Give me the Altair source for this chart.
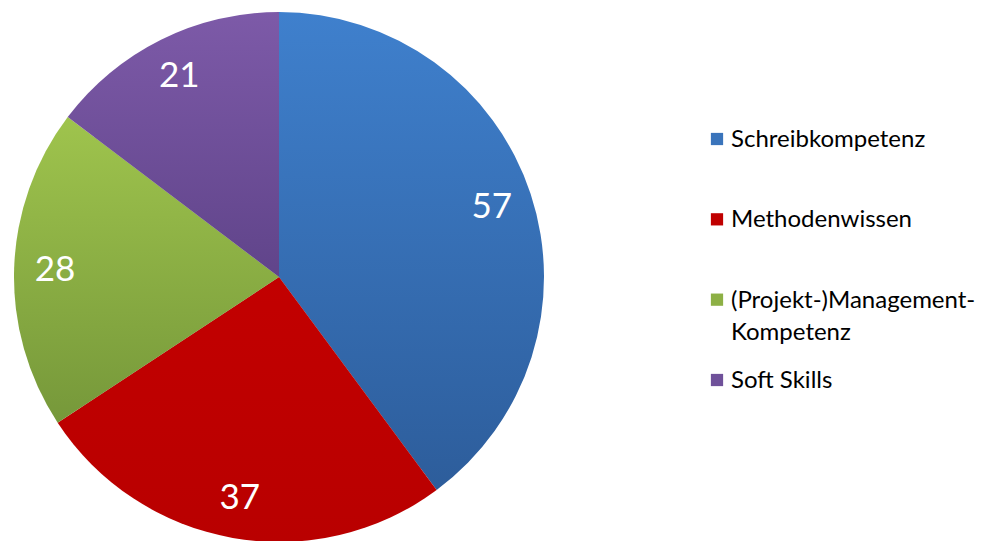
import altair as alt
import pandas as pd

categories = ["Schreibkompetenz", "Methodenwissen", "(Projekt-)Management-Kompetenz", "Soft Skills"]
legend_labels = ["Schreibkompetenz", "Methodenwissen", "(Projekt-)Management-\nKompetenz", "Soft Skills"]
values = [57, 37, 28, 21]
top_colors = ["#3F80CD", "#C20000", "#9FC44D", "#7D5AA8"]
bottom_colors = ["#2D5D9B", "#B90000", "#76983A", "#60448A"]
legend_colors = ["#3A74BB", "#C00000", "#8DB045", "#6F519A"]

df = pd.DataFrame({"cat": categories, "label": legend_labels, "value": values, "order": list(range(len(values)))})
total = sum(values)

W, H = 975, 533
CX, CY, R = 271, 269, 265
FONT = "Lato"

theta_scale = alt.Scale(domain=[0, total])

base = alt.Chart(df).transform_window(
    end="sum(value)", sort=[alt.SortField("order")], frame=[None, 0]
).transform_calculate(
    start="datum.end - datum.value", mid="datum.end - datum.value / 2"
)

shadow = alt.Chart(pd.DataFrame({"s": [1]})).mark_circle(
    size=3.14159 * (R + 1) ** 2, color="#d6d6d6", opacity=1
).encode(x=alt.value(CX + 2), y=alt.value(CY + 3))

arcs = []
for i in range(len(values)):
    grad = alt.Gradient(
        gradient="linear",
        stops=[alt.GradientStop(color=top_colors[i], offset=0),
               alt.GradientStop(color=bottom_colors[i], offset=1)],
        x1=0, x2=0, y1=0, y2=1,
    )
    arcs.append(
        base.transform_filter(alt.datum.order == i)
        .mark_arc(radius=R, color=grad, strokeWidth=0)
        .encode(
            theta=alt.Theta("start:Q", scale=theta_scale),
            theta2="end:Q",
            x=alt.value(CX),
            y=alt.value(CY),
        )
    )

labels = base.mark_text(radius=224, color="white", fontSize=35, font=FONT).encode(
    theta=alt.Theta("mid:Q", scale=theta_scale),
    text="value:Q",
    x=alt.value(CX),
    y=alt.value(CY),
)

ypos = alt.Y("cat:N", sort=categories, axis=None,
             scale=alt.Scale(type="point", range=[131, 372], padding=0))

legend_sq = alt.Chart(df).mark_square(size=150, opacity=1).encode(
    x=alt.value(709),
    y=ypos,
    color=alt.Color("cat:N", sort=categories,
                    scale=alt.Scale(domain=categories, range=legend_colors), legend=None),
)

legend_txt = alt.Chart(df).mark_text(
    align="left", baseline="alphabetic", dy=8, lineBreak="\n",
    fontSize=24, font=FONT, lineHeight=32, color="#000000",
).encode(x=alt.value(723), y=ypos, text="label:N")

chart = alt.layer(shadow, *arcs, labels, legend_sq, legend_txt).properties(
    width=W, height=H, autosize=alt.AutoSizeParams(type="none"), padding=0
).configure_view(stroke=None)

chart.save("out.html", embed_options={"renderer": "svg", "actions": False})
